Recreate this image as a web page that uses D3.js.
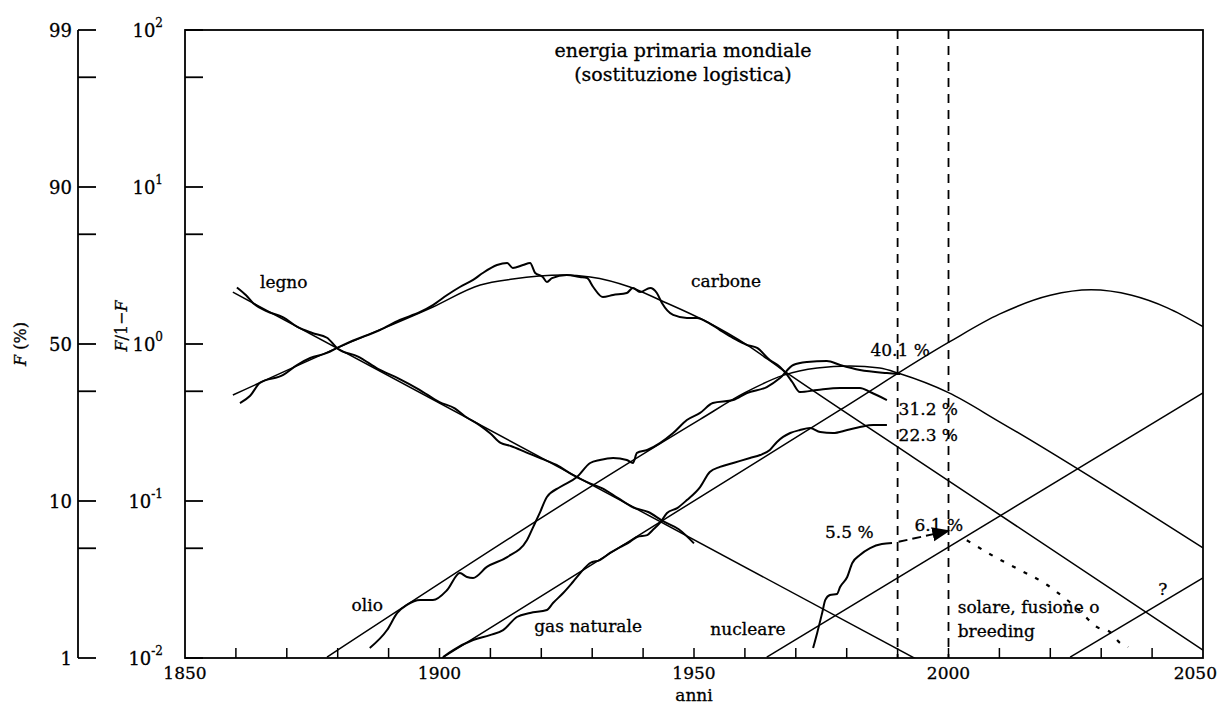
<!DOCTYPE html>
<html>
<head>
<meta charset="utf-8">
<script src="https://cdn.jsdelivr.net/npm/d3@7"></script>
<style>
  body { margin: 0; background: #fff; }
  svg text { font-family: "DejaVu Serif", serif; fill: #000; stroke: #000; stroke-width: 0.3px; }
</style>
</head>
<body>
<svg id="chart" width="1218" height="708"></svg>
<script>
// values are [year, log10(F/(1-F))]
var legnoFit = [[1859.4, 0.33], [1995, -2.03]];
var carboneFit = [[1859.4, -0.325], [1879.9, -0.025], [1898.7, 0.236], [1908, 0.376], [1914.4, 0.414],
  [1924.3, 0.439], [1929.6, 0.427], [1937.4, 0.363], [1943.3, 0.28], [1952.6, 0.14], [1960.4, -0.006],
  [1966.9, -0.153], [1993, -0.72], [2050, -1.95]];
var olioFit = [[1877.9, -1.994], [1951.2, -0.48], [1960, -0.31], [1967.5, -0.2], [1974.2, -0.153],
  [1980.6, -0.14], [1986.5, -0.153], [1990.5, -0.19], [2000, -0.31], [2010.1, -0.497], [2050, -1.299]];
var gasFit = [[1900.5, -2.0], [1951.2, -0.975], [1978.7, -0.42], [2000, 0.01], [2010, 0.19], [2020, 0.31],
  [2028, 0.345], [2036, 0.31], [2043, 0.23], [2050, 0.11]];
var nucleareFit = [[1964.3, -1.994], [2050, -0.312]];
var solareFit = [[2023.9, -1.994], [2050, -1.49]];

var legnoData = [[1860.2, 0.36], [1862, 0.31], [1863.4, 0.26], [1866, 0.21], [1869.3, 0.17], [1872, 0.11],
  [1875, 0.07], [1877.9, 0.04], [1880, -0.03], [1884, -0.08], [1888, -0.16], [1892, -0.22], [1896, -0.29],
  [1900, -0.37], [1903, -0.41], [1905, -0.46], [1908, -0.52], [1910, -0.57], [1912, -0.63], [1914, -0.65],
  [1917, -0.69], [1920, -0.73], [1923, -0.77], [1926, -0.83], [1929, -0.88], [1932, -0.92], [1935, -0.98],
  [1938, -1.04], [1941, -1.07], [1944, -1.13], [1947, -1.18], [1950, -1.27]];
var carboneData = [[1860.8, -0.376], [1862.8, -0.33], [1864.7, -0.248], [1869.3, -0.197], [1872, -0.134],
  [1874.6, -0.089], [1877.9, -0.057], [1879.9, -0.025], [1882.4, 0.013], [1888.3, 0.089], [1892.2, 0.153],
  [1896.2, 0.204], [1898.7, 0.248], [1901.5, 0.312], [1904, 0.363], [1906.6, 0.408], [1908.5, 0.452],
  [1911.3, 0.503], [1913.3, 0.516], [1914.4, 0.484], [1916.4, 0.503], [1917.8, 0.516], [1918.8, 0.452],
  [1920.3, 0.427], [1921.1, 0.395], [1922.1, 0.42], [1925, 0.439], [1927.6, 0.427], [1929, 0.42],
  [1930.2, 0.363], [1932.1, 0.299], [1934.1, 0.312], [1936.8, 0.325], [1938, 0.357], [1939.4, 0.331],
  [1941.4, 0.357], [1942.7, 0.325], [1943.7, 0.261], [1945.9, 0.185], [1948.6, 0.166], [1950.6, 0.166],
  [1952.6, 0.14], [1955.1, 0.089], [1957.7, 0.038], [1960.4, -0.006], [1962.4, -0.025], [1964.9, -0.102],
  [1966.9, -0.146], [1968.3, -0.197], [1969.3, -0.242], [1970.8, -0.306], [1974.2, -0.293], [1978.7, -0.28],
  [1982.6, -0.28], [1984.6, -0.306], [1987.9, -0.357]];
var olioData = [[1886.3, -1.936], [1889.7, -1.822], [1891.7, -1.713], [1893.6, -1.662], [1896.2, -1.631],
  [1898.7, -1.631], [1901.5, -1.567], [1904, -1.459], [1905.4, -1.484], [1906.6, -1.49], [1909.3, -1.42],
  [1913.3, -1.357], [1917.2, -1.248], [1918.4, -1.166], [1919.7, -1.076], [1921.1, -0.975], [1923.7, -0.911],
  [1927, -0.847], [1929.6, -0.758], [1931.5, -0.739], [1934.1, -0.726], [1936.8, -0.739], [1938, -0.758],
  [1938.8, -0.694], [1940.8, -0.675], [1943.3, -0.631], [1945.9, -0.567], [1948.6, -0.484], [1951.2, -0.439],
  [1953.7, -0.376], [1957.7, -0.357], [1960.4, -0.312], [1964.3, -0.274], [1966.9, -0.217], [1969.5, -0.134],
  [1972.2, -0.115], [1976.1, -0.108], [1978.7, -0.134], [1982.6, -0.166], [1987.9, -0.185], [1990.5, -0.191]];
var gasData = [[1900.7, -1.994], [1902.7, -1.949], [1906.6, -1.885], [1909.9, -1.854], [1912.5, -1.822],
  [1915.2, -1.739], [1917.8, -1.713], [1921.1, -1.694], [1922.3, -1.65], [1924.3, -1.586], [1926.2, -1.516],
  [1928.2, -1.439], [1929.6, -1.395], [1931.5, -1.376], [1933.5, -1.331], [1935.5, -1.293], [1937.4, -1.261],
  [1938.8, -1.229], [1940.8, -1.217], [1941.9, -1.185], [1943.3, -1.14], [1944.7, -1.076], [1946.7, -1.045],
  [1948.6, -0.994], [1951.2, -0.911], [1953.1, -0.815], [1955.1, -0.783], [1957.7, -0.758], [1961, -0.726],
  [1963, -0.707], [1964.9, -0.675], [1966.3, -0.624], [1967.5, -0.592], [1968.9, -0.567], [1970.8, -0.548],
  [1972.8, -0.535], [1974.8, -0.561], [1977.3, -0.567], [1980.1, -0.548], [1982.6, -0.529], [1985.2, -0.516],
  [1987.9, -0.516]];
var nucleareData = [[1973.4, -1.936], [1974.2, -1.84], [1975.2, -1.71], [1975.8, -1.63], [1976.7, -1.599],
  [1978.1, -1.592], [1978.7, -1.548], [1980.1, -1.484], [1981.1, -1.395], [1982.6, -1.344], [1984.6, -1.3],
  [1986.9, -1.274], [1988.9, -1.268]];
var nucleareProj = [[1990.2, -1.26], [2000, -1.19]];
var solareProj = [[2003.6, -1.25], [2009.5, -1.363], [2014, -1.439], [2019.4, -1.535], [2021.3, -1.58],
  [2025.5, -1.69], [2029.2, -1.803], [2031.7, -1.834], [2033.7, -1.904], [2035.3, -1.93]];

var xTickYears = [1850, 1900, 1950, 2000, 2050];
var xMinorYears = [1860, 1870, 1880, 1890, 1900, 1910, 1920, 1930, 1940, 1950, 1960, 1970, 1980, 1990,
  2000, 2010, 2020, 2030, 2040];
var yDecades = [-2, -1, 0, 1, 2];
var yMinor = [0.05, 0.5, 5, 50];
var percentLabels = ["1", "10", "50", "90", "99"];
var markerYears = [1990, 2000];

var labels = [
  { t: "legno", v: [1869.4, 0.357], a: "middle" },
  { t: "carbone", v: [1956.3, 0.363], a: "middle" },
  { t: "olio", v: [1885.8, -1.70], a: "middle" },
  { t: "gas naturale", v: [1929.2, -1.834], a: "middle" },
  { t: "nucleare", v: [1960.6, -1.854], a: "middle" },
  { t: "solare, fusione o", v: [2001.8, -1.713], a: "start" },
  { t: "breeding", v: [2001.8, -1.866], a: "start" },
  { t: "?", v: [2042.1, -1.599], a: "middle" },
  { t: "40.1 %", v: [1990.5, -0.076], a: "middle" },
  { t: "31.2 %", v: [1990.2, -0.452], a: "start" },
  { t: "22.3 %", v: [1990.2, -0.618], a: "start" },
  { t: "5.5 %", v: [1980.5, -1.236], a: "middle" },
  { t: "6.1 %", v: [1998.1, -1.191], a: "middle" }
];

var svg = d3.select("#chart");
var x = d3.scaleLinear().domain([1850, 2050]).range([185, 1203]);
var y = d3.scaleLog().domain([0.01, 100]).range([658, 30]);
var yv = function (l) { return y(Math.pow(10, l)); };

svg.append("defs").append("clipPath").attr("id", "plot")
  .append("rect").attr("x", x(1850)).attr("y", y(100)).attr("width", x(2050) - x(1850)).attr("height", y(0.01) - y(100));
svg.select("defs").append("marker").attr("id", "arrow").attr("viewBox", "0 0 10 10")
  .attr("refX", 9).attr("refY", 5).attr("markerWidth", 9).attr("markerHeight", 9).attr("orient", "auto")
  .append("path").attr("d", "M0,1 L10,5 L0,9 Z").attr("fill", "#000");

var line = d3.line().x(function (d) { return x(d[0]); }).y(function (d) { return yv(d[1]); });
var smooth = d3.line().x(function (d) { return x(d[0]); }).y(function (d) { return yv(d[1]); }).curve(d3.curveMonotoneX);

var plot = svg.append("g").attr("clip-path", "url(#plot)");

[legnoFit, carboneFit, olioFit, gasFit, nucleareFit, solareFit].forEach(function (s) {
  plot.append("path").attr("d", smooth(s)).attr("fill", "none").attr("stroke", "#000").attr("stroke-width", 1.5);
});
[legnoData, carboneData, olioData, gasData, nucleareData].forEach(function (s) {
  plot.append("path").attr("d", smooth(s)).attr("fill", "none").attr("stroke", "#000")
    .attr("stroke-width", 2).attr("stroke-linejoin", "round");
});
plot.append("path").attr("d", line(nucleareProj)).attr("fill", "none").attr("stroke", "#000")
  .attr("stroke-width", 2).attr("stroke-dasharray", "9,5").attr("marker-end", "url(#arrow)");
plot.append("path").attr("d", smooth(solareProj)).attr("fill", "none").attr("stroke", "#000")
  .attr("stroke-width", 2.2).attr("stroke-dasharray", "4,9");

// vertical dashed markers
svg.selectAll(".marker").data(markerYears).enter().append("line")
  .attr("x1", function (d) { return x(d); }).attr("x2", function (d) { return x(d); })
  .attr("y1", y(100)).attr("y2", y(0.01))
  .attr("stroke", "#000").attr("stroke-width", 1.8).attr("stroke-dasharray", "9,7");

// frame
svg.append("rect").attr("x", x(1850)).attr("y", y(100)).attr("width", x(2050) - x(1850)).attr("height", y(0.01) - y(100))
  .attr("fill", "none").attr("stroke", "#000").attr("stroke-width", 1.8);

// bottom ticks
svg.selectAll(".xminor").data(xMinorYears).enter().append("line")
  .attr("x1", function (d) { return x(d); }).attr("x2", function (d) { return x(d); })
  .attr("y1", y(0.01)).attr("y2", y(0.01) - 10).attr("stroke", "#000").attr("stroke-width", 1.5);
svg.selectAll(".xlab").data(xTickYears).enter().append("text")
  .attr("x", function (d, i) { return i === xTickYears.length - 1 ? 1217 : x(d); }).attr("y", 679)
  .attr("text-anchor", function (d, i) { return i === xTickYears.length - 1 ? "end" : "middle"; })
  .attr("font-size", 17).text(function (d) { return d; });
svg.append("text").attr("x", x(1950)).attr("y", 701).attr("text-anchor", "middle").attr("font-size", 17).text("anni");

// main y axis
var yTickVals = yDecades.map(function (d) { return Math.pow(10, d); }).concat(yMinor);
svg.selectAll(".ytick").data(yTickVals).enter().append("line")
  .attr("x1", x(1850)).attr("x2", x(1850) + 18)
  .attr("y1", function (d) { return y(d); }).attr("y2", function (d) { return y(d); })
  .attr("stroke", "#000").attr("stroke-width", 1.8);
var ylab = svg.selectAll(".ylab").data(yDecades).enter().append("text")
  .attr("x", 163).attr("y", function (d) { return y(Math.pow(10, d)) + 7; })
  .attr("text-anchor", "end").attr("font-size", 18);
ylab.append("tspan").text("10");
ylab.append("tspan").attr("dy", -10).attr("font-size", 12).text(function (d) { return d; });

// F(%) axis
var fx = 78;
svg.append("line").attr("x1", fx).attr("x2", fx).attr("y1", y(100)).attr("y2", y(0.01))
  .attr("stroke", "#000").attr("stroke-width", 1.8);
svg.selectAll(".ftick").data(yTickVals).enter().append("line")
  .attr("x1", fx).attr("x2", fx + 18)
  .attr("y1", function (d) { return y(d); }).attr("y2", function (d) { return y(d); })
  .attr("stroke", "#000").attr("stroke-width", 1.8);
svg.selectAll(".flab").data(percentLabels).enter().append("text")
  .attr("x", fx - 6).attr("y", function (d, i) { return y(Math.pow(10, yDecades[i])) + 7; })
  .attr("text-anchor", "end").attr("font-size", 18).text(function (d) { return d; });

// rotated axis titles
svg.append("text").attr("transform", "translate(26," + y(1) + ") rotate(-90)").attr("text-anchor", "middle")
  .attr("font-size", 16).html('<tspan font-style="italic">F</tspan> (%)');
svg.append("text").attr("transform", "translate(127," + (y(1) - 18) + ") rotate(-90)").attr("text-anchor", "middle")
  .attr("font-size", 16).html('<tspan font-style="italic">F</tspan>/1\u2212<tspan font-style="italic">F</tspan>');

// title
svg.append("text").attr("x", 683).attr("y", 57).attr("text-anchor", "middle").attr("font-size", 19).text("energia primaria mondiale");
svg.append("text").attr("x", 683).attr("y", 81).attr("text-anchor", "middle").attr("font-size", 19).text("(sostituzione logistica)");

// annotations
svg.selectAll(".ann").data(labels).enter().append("text")
  .attr("x", function (d) { return x(d.v[0]); }).attr("y", function (d) { return yv(d.v[1]); })
  .attr("text-anchor", function (d) { return d.a; }).attr("font-size", 17).text(function (d) { return d.t; });
</script>
</body>
</html>
